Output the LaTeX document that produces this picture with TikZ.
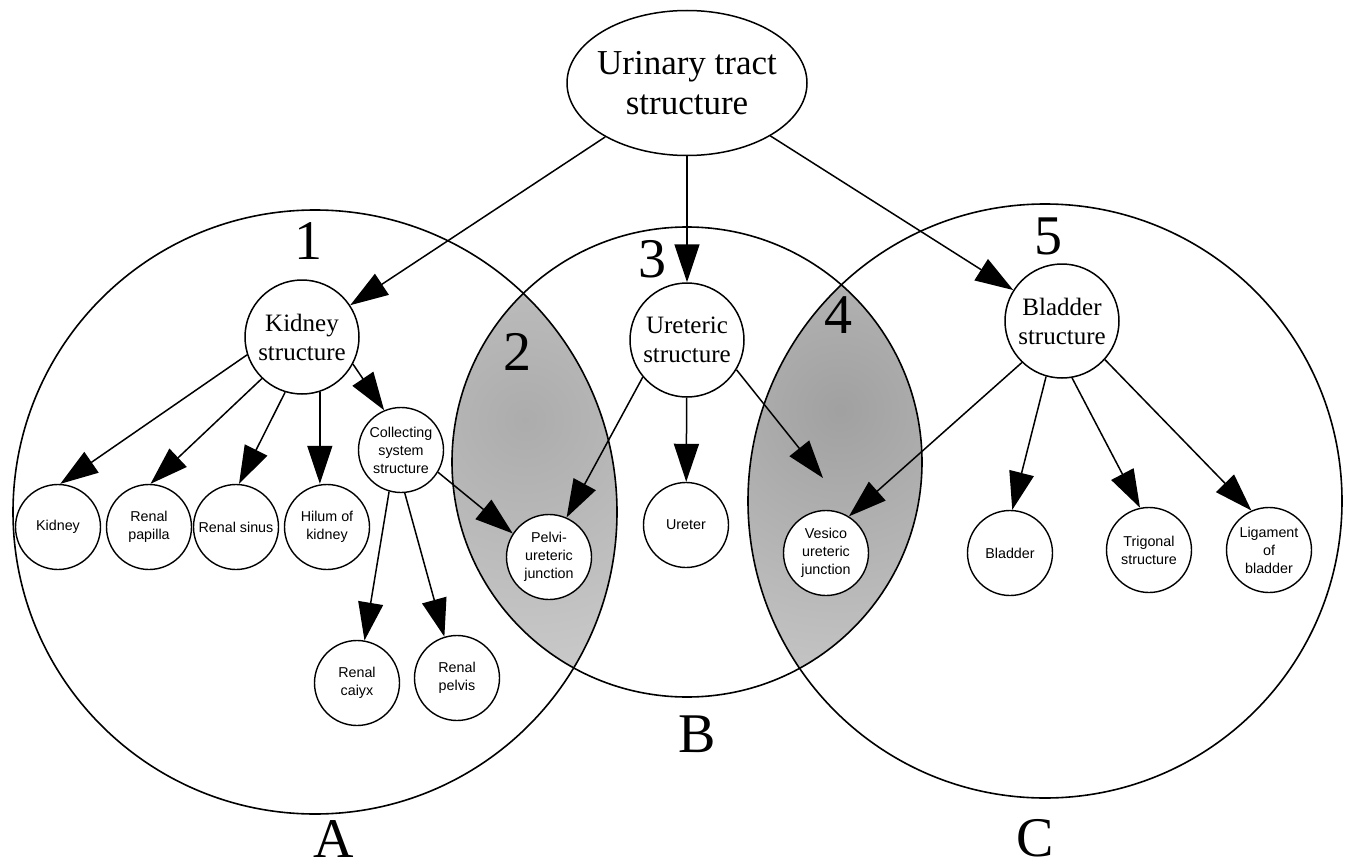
\documentclass[tikz,border=0pt]{standalone}
\usepackage{fontspec}
\setmainfont{Liberation Serif}
\newfontfamily\leaffont{Liberation Sans}
\usetikzlibrary{shapes.geometric, arrows.meta}

\begin{document}
\begin{tikzpicture}[x=1pt,y=-1pt,
  ring/.style={line width=1.6pt},
  setlabel/.style={font=\fontsize{56}{56}\selectfont, inner sep=0pt},
  topnode/.style={ellipse, draw, line width=1.5pt, fill=white,
    minimum width=240pt, minimum height=145pt, inner sep=-25pt,
    align=center, font=\fontsize{35}{40}\selectfont},
  midnode/.style={circle, draw, line width=1.5pt, fill=white,
    minimum size=114pt, inner sep=0pt, align=center,
    font=\fontsize{25}{29}\selectfont},
  leafnode/.style={circle, draw, line width=1.4pt, fill=white,
    minimum size=85pt, inner sep=0pt, align=center,
    font=\leaffont\fontsize{14.3}{18}\selectfont},
  arr/.style={-{Triangle[length=38pt,width=25pt]}, line width=1.5pt}
]
\useasboundingbox (0,0) rectangle (1350,867);

% shaded overlap of sets A and B (region 2)
\begin{scope}
  \clip (315,512) circle (302);
  \clip (687,462) circle (235);
  \shade[inner color=gray!65, outer color=gray!22] (525,420) circle (480);
\end{scope}
% shaded overlap of sets B and C (region 4)
\begin{scope}
  \clip (1045,501) circle (297);
  \clip (687,462) circle (235);
  \shade[inner color=gray!74, outer color=gray!24] (840,410) circle (480);
\end{scope}

% the three sets
\draw[ring] (315,512) circle (302);
\draw[ring] (687,462) circle (235);
\draw[ring] (1045,501) circle (297);

% region and set labels
\node[setlabel] (r1) at (308,241) {1};
\node[setlabel] (r2) at (517,352) {2};
\node[setlabel] (r3) at (652,259) {3};
\node[setlabel] (r4) at (838,315) {4};
\node[setlabel] (r5) at (1048,236) {5};
\node[setlabel] (sA) at (334,839) {A};
\node[setlabel] (sB) at (697,734) {B};
\node[setlabel] (sC) at (1035,838) {C};

% concept nodes
\node[topnode] (ut) at (687,83) {Urinary tract\\structure};
\node[midnode] (ks) at (302,337) {Kidney\\structure};
\node[midnode] (us) at (687,340) {Ureteric\\structure};
\node[midnode] (bs) at (1062,321) {Bladder\\structure};

\node[leafnode] (kid) at (58,527) {Kidney};
\node[leafnode] (pap) at (149,527) {Renal\\papilla};
\node[leafnode] (sin) at (236,527) {Renal sinus};
\node[leafnode] (hil) at (327,527) {Hilum of\\kidney};
\node[leafnode] (col) at (401,450) {Collecting\\system\\structure};
\node[leafnode] (cal) at (357,683) {Renal\\caiyx};
\node[leafnode] (pel) at (457,678) {Renal\\pelvis};
\node[leafnode] (puj) at (549,557) {Pelvi-\\ureteric\\junction};
\node[leafnode] (ure) at (686,525) {Ureter};
\node[leafnode] (vuj) at (826,553) {Vesico\\ureteric\\junction};
\node[leafnode] (bla) at (1010,553) {Bladder};
\node[leafnode] (tri) at (1149,550) {Trigonal\\structure};
\node[leafnode] (lig) at (1269,550) {Ligament\\of\\bladder};

% is-a links
\draw[arr] (ut) -- (ks);
\draw[arr] (ut) -- (us);
\draw[arr] (ut) -- (bs);

\draw[arr] (ks.198) -- (kid.87);
\draw[arr] (ks.226) -- (pap.88);
\draw[arr] (ks.-107) -- (sin.86);
\draw[arr] (ks.-72) -- (ks.-72 |- hil.north);
\draw[arr] (ks.-28) -- (col.113);

\draw[arr] (col.-106) -- (cal.80);
\draw[arr] (col.-85) -- (pel.107);
\draw[arr] (col.-31) -- (puj.147);

\draw[arr] (us.220) -- (puj.66);
\draw[arr] (us) -- (ure);
\coordinate (vtip) at (823,478);
\draw[arr] (us.-31) -- (vtip);

\draw[arr] (bs.226) -- (vuj.58);
\draw[arr] (bs.-106) -- (bla.87);
\draw[arr] (bs.-80) -- (tri.102);
\draw[arr] (bs.-42) -- (lig.114);
\end{tikzpicture}
\end{document}
